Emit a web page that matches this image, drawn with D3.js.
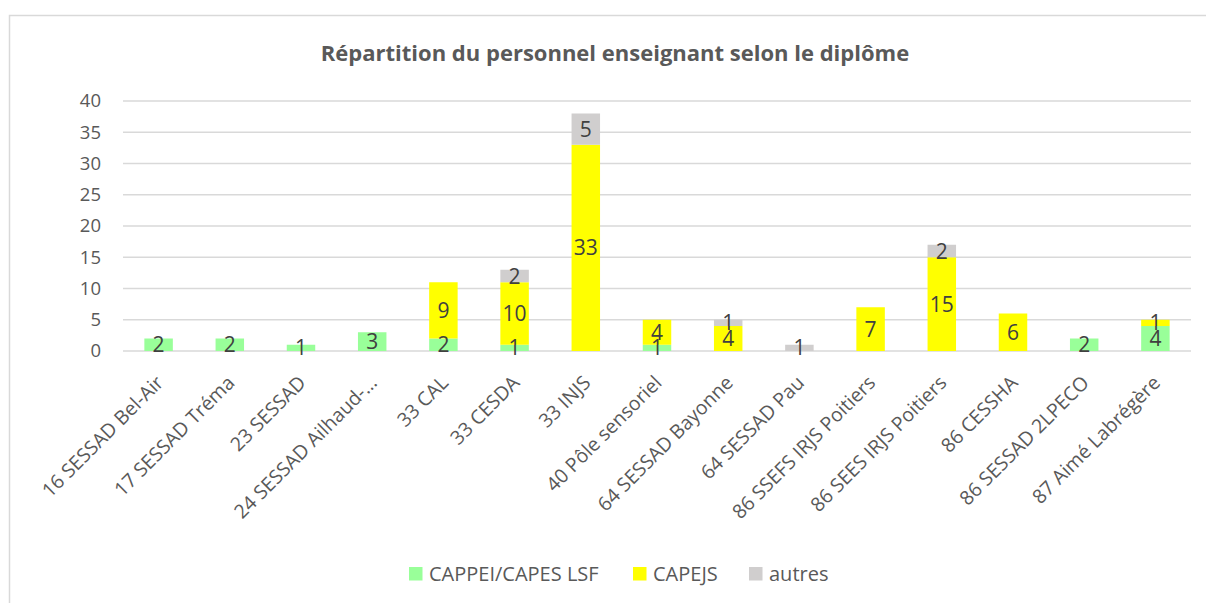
<!DOCTYPE html>
<html>
<head>
<meta charset="utf-8">
<script src="https://cdn.jsdelivr.net/npm/d3@7"></script>
<style>
  body { margin: 0; background: #fff; }
  svg { display: block; font-family: "Open Sans", "Noto Sans", sans-serif; }
</style>
</head>
<body>
<div id="chart"></div>
<script>
var categories = ["16 SESSAD Bel-Air", "17 SESSAD Tréma", "23 SESSAD", "24 SESSAD Ailhaud-…",
    "33 CAL", "33 CESDA", "33 INJS", "40 Pôle sensoriel", "64 SESSAD Bayonne", "64 SESSAD Pau",
    "86 SSEFS IRJS Poitiers", "86 SEES IRJS Poitiers", "86 CESSHA", "86 SESSAD 2LPECO", "87 Aimé Labrégère"];
var cappei = [2, 2, 1, 3, 2, 1, 0, 1, 0, 0, 0, 0, 0, 2, 4];
var capejs = [0, 0, 0, 0, 9, 10, 33, 4, 4, 0, 7, 15, 6, 0, 1];
var autres = [0, 0, 0, 0, 0, 2, 5, 0, 1, 1, 0, 2, 0, 0, 0];
var seriesNames = ["CAPPEI/CAPES LSF", "CAPEJS", "autres"];
var yTicks = [0, 5, 10, 15, 20, 25, 30, 35, 40];

var width = 1206, height = 603;
var colors = ["#99ff99", "#ffff00", "#d0cece"];
var textColor = "#595959";

var svg = d3.select('#chart').append('svg')
    .attr('width', width)
    .attr('height', height);

// chart frame
svg.append('rect')
    .attr('x', 9.5).attr('y', 15.5)
    .attr('width', 1220).attr('height', 620)
    .attr('fill', '#fff')
    .attr('stroke', '#d9d9d9')
    .attr('stroke-width', 1.5);

svg.append('text')
    .attr('x', 615).attr('y', 61)
    .attr('text-anchor', 'middle')
    .attr('font-size', '22px')
    .attr('font-weight', 'bold')
    .attr('fill', textColor)
    .text('Répartition du personnel enseignant selon le diplôme');

var x = d3.scaleBand()
    .domain(categories)
    .range([123, 1191])
    .paddingInner(0.6)
    .paddingOuter(0.3);

var y = d3.scaleLinear()
    .domain([0, 40])
    .range([351, 101]);

// gridlines
svg.append('g')
    .selectAll('line')
    .data(yTicks)
    .enter()
    .append('line')
    .attr('x1', 123).attr('x2', 1191)
    .attr('y1', function (d) {return y(d);})
    .attr('y2', function (d) {return y(d);})
    .attr('stroke', '#d9d9d9')
    .attr('stroke-width', 1.3);

var yAxis = svg.append('g')
    .attr('transform', 'translate(123,0)')
    .call(d3.axisLeft(y).tickValues(yTicks).tickSize(0).tickPadding(22));
yAxis.select('.domain').remove();
yAxis.selectAll('text')
    .attr('font-size', '18.5px')
    .attr('fill', textColor)
    .attr('font-family', '"Open Sans", sans-serif');

var rows = categories.map(function (c, i) {
    return {cat: c, s0: cappei[i], s1: capejs[i], s2: autres[i]};
});
var stack = d3.stack().keys(["s0", "s1", "s2"]);
var layers = stack(rows);

var layer = svg.selectAll('.layer')
    .data(layers)
    .enter()
    .append('g')
    .attr('class', 'layer')
    .attr('fill', function (d, i) {return colors[i];});

layer.selectAll('rect')
    .data(function (d) {return d;})
    .enter()
    .append('rect')
    .attr('x', function (d) {return x(d.data.cat);})
    .attr('width', x.bandwidth())
    .attr('y', function (d) {return y(d[1]);})
    .attr('height', function (d) {return y(d[0]) - y(d[1]);});

// data labels
var labels = svg.append('g');
layers.forEach(function (l) {
    l.forEach(function (d) {
        var v = d[1] - d[0];
        if (v <= 0) return;
        labels.append('text')
            .attr('x', x(d.data.cat) + x.bandwidth() / 2)
            .attr('y', (y(d[0]) + y(d[1])) / 2)
            .attr('dy', '0.36em')
            .attr('text-anchor', 'middle')
            .attr('font-size', '21px')
            .attr('fill', '#404040')
            .text(v);
    });
});

// category labels
var xAxis = svg.append('g')
    .attr('transform', 'translate(0,351)')
    .call(d3.axisBottom(x).tickSize(0).tickPadding(0));
xAxis.select('.domain').remove();
xAxis.selectAll('text')
    .attr('font-size', '19.5px')
    .attr('fill', textColor)
    .attr('font-family', '"Open Sans", sans-serif')
    .attr('text-anchor', 'end')
    .attr('dy', null)
    .attr('transform', 'translate(6,33) rotate(-45)');

// legend
var legendX = [409, 633, 749];
var legend = svg.selectAll('.legend')
    .data(seriesNames)
    .enter()
    .append('g')
    .attr('class', 'legend')
    .attr('transform', function (d, i) {return 'translate(' + legendX[i] + ',567)';});

legend.append('rect')
    .attr('width', 13.5).attr('height', 13.5)
    .attr('fill', function (d, i) {return colors[i];});

legend.append('text')
    .attr('x', 20).attr('y', 14)
    .attr('font-size', '20px')
    .attr('fill', textColor)
    .text(function (d) {return d;});
</script>
</body>
</html>
